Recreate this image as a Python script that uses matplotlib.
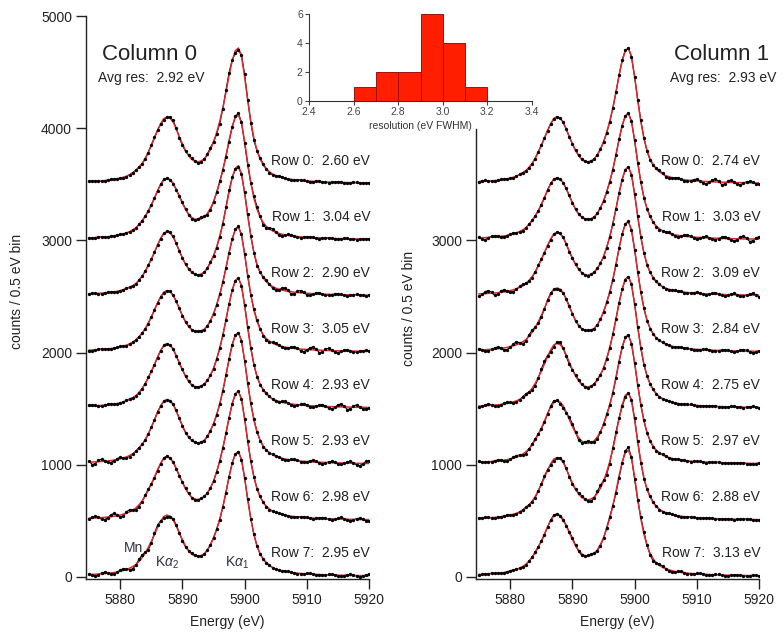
import matplotlib.pyplot as plt
import numpy as np

plt.rcParams['font.family'] = ['Liberation Sans', 'DejaVu Sans']
plt.rcParams['mathtext.fontset'] = 'custom'
plt.rcParams['mathtext.rm'] = 'Liberation Sans'
plt.rcParams['mathtext.it'] = 'Liberation Sans:italic'

# energy bins (0.5 eV) from 5875 to 5920 eV
energy = np.arange(5875.0, 5920.5, 0.5)

fit_profile = np.array([
    24, 25, 27, 29, 31, 33, 36, 39, 43, 48,
    55, 63, 72, 85, 100, 120, 150, 185, 230, 285,
    345, 410, 480, 540, 585, 600, 590, 555, 495, 425,
    360, 300, 255, 222, 205, 200, 208, 225, 260, 310,
    375, 460, 560, 680, 820, 970, 1100, 1190, 1215, 1140,
    960, 750, 560, 410, 300, 225, 172, 135, 110, 92,
    78, 68, 60, 53, 48, 44, 40, 37, 34, 32,
    30, 28, 26, 25, 24, 22, 21, 20, 19, 18,
    17, 17, 16, 15, 15, 14, 14, 13, 13, 12,
    12])

# scatter of the measured points around the fit
residuals = np.array([
    3, 5, 2, -1, -4, -2, 1, 4, 6, 3,
    -2, -5, -3, 0, 4, 7, 3, -3, -6, -2,
    5, 9, 4, -6, -10, -4, 8, 14, 6, -9,
    -14, -5, 7, 12, 3, -8, -12, -2, 10, 16,
    4, -15, -20, -6, 18, 25, 8, -22, -15, 12,
    20, 5, -14, -18, -4, 9, 12, 3, -7, -9,
    -2, 6, 8, 2, -5, -6, -1, 4, 6, 2,
    -3, -5, -2, 3, 5, 1, -4, -5, -1, 3,
    5, 2, -3, -4, 0, 4, 3, -2, -4, -1, 2])

row_offsets = [3500, 3000, 2500, 2000, 1500, 1000, 500, 0]

col0_res = [2.60, 3.04, 2.90, 3.05, 2.93, 2.93, 2.98, 2.95]
col1_res = [2.74, 3.03, 3.09, 2.84, 2.75, 2.97, 2.88, 3.13]
col0_scale = [1.00, 0.92, 0.96, 0.92, 0.96, 0.97, 0.95, 0.92]
col1_scale = [1.00, 0.93, 0.95, 0.96, 0.97, 0.95, 0.94, 0.93]
avg_res = [2.92, 2.93]

hist_edges = [2.6, 2.7, 2.8, 2.9, 3.0, 3.1, 3.2]
hist_counts = [1, 2, 2, 6, 4, 1]

W, H = 784, 637
fig = plt.figure(figsize=(W / 100, H / 100), dpi=100)
txt = '#222222'

ax0 = fig.add_axes([86 / W, 1 - 579 / H, 283 / W, 563 / H])
ax1 = fig.add_axes([476 / W, 1 - 579 / H, 283 / W, 563 / H])

cols = [(ax0, col0_res, col0_scale), (ax1, col1_res, col1_scale)]
for c, (ax, res, scale) in enumerate(cols):
    for i in range(8):
        fit = fit_profile * scale[i] + row_offsets[i]
        data = fit + np.roll(residuals, 9 * i + 31 * c)
        ax.plot(energy, data, color='black', lw=0.8, zorder=2)
        ax.plot(energy, fit, color='#e3262b', lw=1.1, zorder=3)
        ax.plot(energy, data, 'o', color='black', ms=2.4, mew=0, zorder=4)
        ax.text(5920.2, row_offsets[i] + 210, f"Row {i}:  {res[i]:.2f} eV",
                ha='right', va='center', fontsize=10, color=txt)

    ax.set_xlim(5874.5, 5920)
    ax.set_ylim(-18, 5000)
    ax.set_xticks([5880, 5890, 5900, 5910, 5920])
    for s in ['top', 'right']:
        ax.spines[s].set_visible(False)
    for s in ['left', 'bottom']:
        ax.spines[s].set_linewidth(1.0)
        ax.spines[s].set_color(txt)
    ax.tick_params(direction='out', length=7, width=1.0, labelsize=10,
                   colors=txt, pad=3)
    ax.set_xlabel('Energy (eV)', fontsize=10, color=txt, labelpad=6)
    ax.set_ylabel('counts / 0.5 eV bin', fontsize=10, color=txt)

    ax.text(0.226 if c == 0 else 0.869, 0.931, f"Column {c}", transform=ax.transAxes,
            ha='center', va='center', fontsize=16, color=txt)
    ax.text(0.23 if c == 0 else 0.875, 0.890, f"Avg res:  {avg_res[c]:.2f} eV",
            transform=ax.transAxes, ha='center', va='center', fontsize=10, color=txt)

ax0.set_yticks([0, 1000, 2000, 3000, 4000, 5000])
ax0.spines['left'].set_bounds(-18, 5000)
ax0.yaxis.set_label_coords(-0.219, 0.51)
ax1.set_yticks([0, 1000, 2000, 3000])
ax1.spines['left'].set_bounds(-18, 3990)
ax1.yaxis.set_label_coords(-0.212, 0.48)

# line labels on the bottom row
lab = '#2e3144'
ax0.text(5882.2, 258, 'Mn', ha='center', va='center', fontsize=10, color=lab)
ax0.text(5887.6, 125, r'K$\alpha_2$', ha='center', va='center', fontsize=10, color=lab)
ax0.text(5898.8, 125, r'K$\alpha_1$', ha='center', va='center', fontsize=10, color=lab)

# resolution histogram inset
axh = fig.add_axes([309 / W, 1 - 101 / H, 223 / W, 87 / H])
axh.bar(hist_edges[:-1], hist_counts, width=0.1, align='edge',
        color='#ff1f00', edgecolor='#a01010', lw=0.7)
axh.set_xlim(2.4, 3.4)
axh.set_ylim(0, 6)
axh.set_xticks([2.4, 2.6, 2.8, 3.0, 3.2, 3.4])
axh.set_xticklabels(['2.4', '2.6', '2.8', '3.0', '3.2', '3.4'])
axh.set_yticks([0, 2, 4, 6])
for s in ['top', 'right']:
    axh.spines[s].set_visible(False)
for s in ['left', 'bottom']:
    axh.spines[s].set_linewidth(0.8)
    axh.spines[s].set_color('#333333')
axh.tick_params(direction='out', length=3, width=0.8, labelsize=7.5,
                colors='#444444', pad=1.5)
axh.set_xlabel('resolution (eV FWHM)', fontsize=7.5, color='#333333', labelpad=3)
axh.patch.set_alpha(0)

fig.savefig('out.png', dpi=100, facecolor='white')
